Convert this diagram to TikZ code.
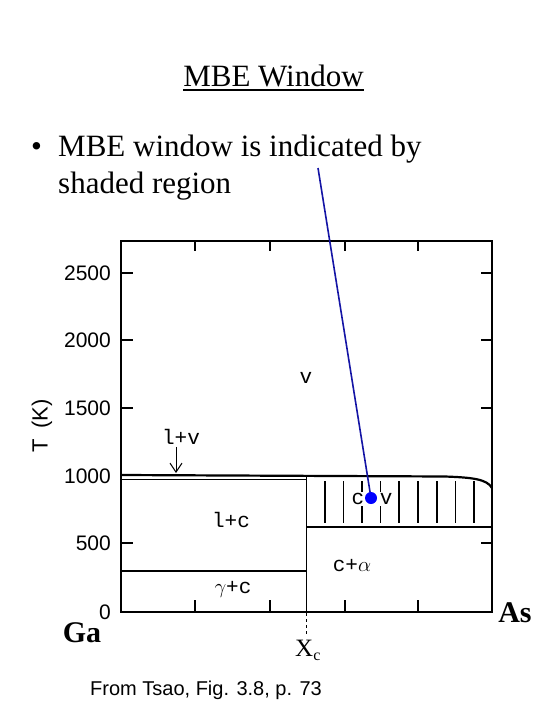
\documentclass[tikz,border=0pt]{standalone}
\usepackage{fontspec}
\setmainfont{Liberation Serif}
\setsansfont{Liberation Sans}
\setmonofont{Liberation Mono}
\usetikzlibrary{arrows.meta,positioning}
\definecolor{ptrline}{RGB}{20,20,165}
\newcommand{\pxfont}[1]{\fontsize{#1}{#1}\selectfont}

\begin{document}
\begin{tikzpicture}[x=1pt, y=-1pt, line cap=butt,
  frame/.style={line width=2.6pt},
  phase/.style={line width=1.6pt},
  hatchline/.style={line width=1.1pt},
  tickmark/.style={line width=2pt},
  ticklab/.style={font=\sffamily\pxfont{21}, anchor=east, inner sep=0pt},
  region/.style={font=\ttfamily\pxfont{21}, inner sep=0pt},
  slide/.style={font=\pxfont{31}, inner sep=0pt, anchor=base west}]
  \useasboundingbox[fill=white] (0,0) rectangle (540,720);

  % heading and bullet text
  \node[font=\pxfont{31}, inner sep=0pt, anchor=base] (title) at (273.5,86) {MBE Window};
  \draw[line width=2pt] ([yshift=-3.5pt]title.base west) -- ([yshift=-3.5pt]title.base east);
  \node[slide] (bul) at (31,156) {•};
  \node[slide] (line1) at (58,156) {MBE window is indicated by};
  \node[slide] (line2) at (58,193) {shaded region};

  % phase diagram box and ticks
  \foreach \y in {273,340,408,543}{
    \draw[tickmark] (121,\y) -- ++(12,0);
    \draw[tickmark] (492,\y) -- ++(-11,0);
  }
  \foreach \x in {195,270,345,418}{
    \draw[tickmark] (\x,612) -- ++(0,-12);
    \draw[tickmark] (\x,241) -- ++(0,10);
  }
  \foreach \v/\y in {0/612, 500/543, 1000/476, 1500/408, 2000/340, 2500/273}{
    \node[ticklab] (t\v) at (111,\y) {\v};
  }
  \node[font=\sffamily\pxfont{22}, rotate=90, inner sep=0pt] (tlab) at (42,426) {T\hspace{0.5em}(K)};

  % phase boundaries
  \draw[line width=2.2pt] (121,475) -- (445,476.5) .. controls (472,477.5) and (487,479) .. (492,488);
  \draw[line width=1pt] (121,479) -- (306.5,479);
  \draw[phase] (306.5,476) -- (306.5,612);
  \draw[phase] (121,571) -- (306.5,571);
  \draw[phase] (306.5,527) -- (492,527);
  \draw[dashed, line width=1pt] (306.5,613) -- (306.5,634);

  % shaded (hatched) MBE window
  \foreach \x in {325,343.5,362,380.5,399,418,437,455.5,474}{
    \draw[hatchline] (\x,481) -- (\x,523);
  }

  \draw[frame] (121,241) rectangle (492,612);

  % region labels
  \node[region] (vap) at (306,378) {v};
  \node[region] (lv) at (181,437) {l+v};
  \coordinate (lvtip) at (176,473);
  \draw[-{Straight Barb[length=9pt,width=12pt]}, line width=1pt, shorten <=2pt] (lv.south -| lvtip) -- (lvtip);
  \node[region] (lc) at (231,520) {l+c};
  \node[region] (gc) at (233,589) {$\gamma$+c};
  \node[region] (ca) at (352,566) {c+$\alpha$};
  \node[region, fill=white, inner sep=1.5pt] (cv) at (372,499) {c\hspace{0.75em}v};

  % pointer to the window
  \coordinate (ptrtop) at (318,168);
  \coordinate (mbe) at (371,498);
  \draw[ptrline, line width=1.6pt] (ptrtop) -- (mbe);
  \node[circle, fill=blue, inner sep=0pt, minimum size=12pt] (mbedot) at (mbe) {};

  % composition axis
  \node[font=\bfseries\pxfont{30}, inner sep=0pt] (ga) at (82,633) {Ga};
  \node[font=\bfseries\pxfont{30}, inner sep=0pt] (as) at (515,613) {As};
  \node[font=\pxfont{25}, inner sep=0pt, anchor=base west] (xc) at (295,656) {X\raisebox{-4pt}{\pxfont{16}c}};

  \node[font=\sffamily\pxfont{20}, inner sep=0pt, anchor=base] (src) at (206,695) {From Tsao, Fig. 3.8, p. 73};
\end{tikzpicture}
\end{document}
